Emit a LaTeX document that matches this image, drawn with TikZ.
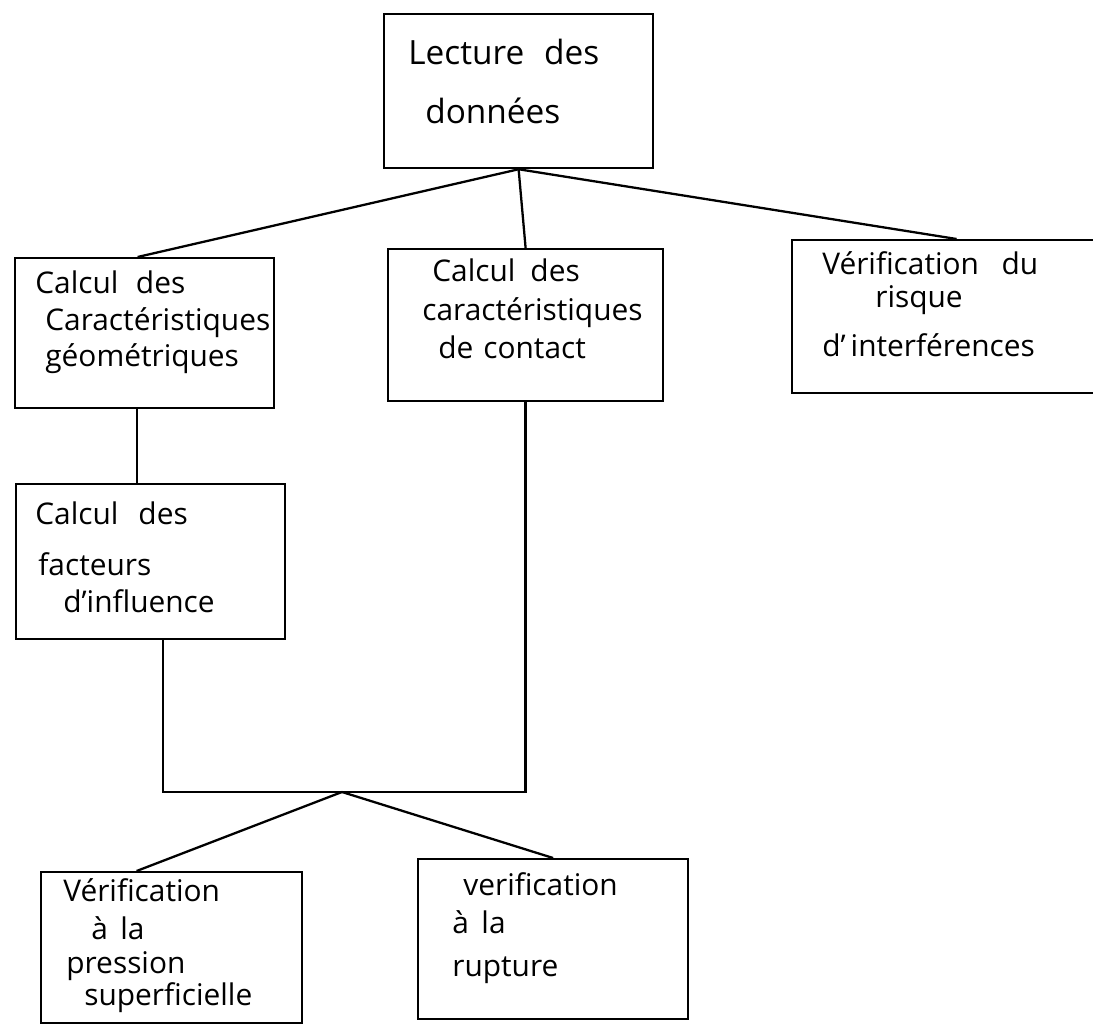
\documentclass[tikz,border=0pt]{standalone}
\usepackage{fontspec}
\setmainfont{Open Sans}
\hyphenpenalty=10000
\exhyphenpenalty=10000

\begin{document}
\begin{tikzpicture}[x=0.02cm,y=-0.02cm,
  boite/.style={draw,line width=1.3pt,anchor=north west,inner sep=0pt},
  texte/.style={anchor=base west,align=left,inner sep=0pt,
    font=\fontsize{17}{21}\selectfont},
  trait/.style={line width=1.3pt}]

  \useasboundingbox (0,0) rectangle (1093,1027);
  \clip (0,0) rectangle (1093,1027);

  % les boites
  \node[boite,minimum width=5.38cm,minimum height=3.08cm] (lecture) at (383,13) {};
  \node[boite,minimum width=5.18cm,minimum height=3.0cm] (geom) at (14,257) {};
  \node[boite,minimum width=5.5cm,minimum height=3.04cm] (contact) at (387,248) {};
  \node[boite,minimum width=6.58cm,minimum height=3.06cm] (interf) at (791,239) {};
  \node[boite,minimum width=5.38cm,minimum height=3.1cm] (influence) at (15,483) {};
  \node[boite,minimum width=5.22cm,minimum height=3.02cm] (pression) at (40,871) {};
  \node[boite,minimum width=5.4cm,minimum height=3.2cm] (rupture) at (417,858) {};

  % les textes (placés par la ligne du bas)
  \node[texte,font=\fontsize{19}{21}\selectfont] (lecture-t) at (408,124)
    {Lecture\hspace{0.4cm}des\\[13pt]\hspace*{0.34cm}données};
  \node[texte] (geom-t) at (35,367)
    {Calcul\hspace{0.35cm}des\\\hspace*{0.2cm}Caractéristiques\\\hspace*{0.2cm}géométriques};
  \node[texte] (contact-t) at (422,359)
    {\hspace*{0.2cm}Calcul\hspace{0.3cm}des\\[1pt]caractéristiques\\[1pt]\hspace*{0.32cm}de\hspace{0.2cm}contact};
  \node[texte] (interf-t) at (822,357)
    {Vérification\hspace{0.45cm}du\\[-2pt]\hspace*{1.06cm}risque\\[7pt]d'\hspace{0.1cm}interférences};
  \node[texte] (influence-t) at (35,612)
    {Calcul\hspace{0.4cm}des\\[8pt]\hspace*{0.06cm}facteurs\\\hspace*{0.56cm}d'influence};
  \node[texte] (pression-t) at (63,1005)
    {Vérification\\[1pt]\hspace*{0.56cm}à\hspace{0.25cm}la\\[-2pt]\hspace*{0.06cm}pression\\[-3pt]\hspace*{0.42cm}superficielle};
  \node[texte] (rupture-t) at (452,976)
    {\hspace*{0.22cm}verification\\[1pt]à\hspace{0.25cm}la\\[3pt]rupture};

  % les liaisons
  \coordinate (noeud) at (342,792);
  \draw[trait] (lecture.south) -- ([xshift=-0.14cm]geom.north);
  \draw[trait] (lecture.south) -- (contact.north);
  \draw[trait] (lecture.south) -- (interf.north);
  \draw[trait] ([xshift=-0.15cm]geom.south) -- ([xshift=-0.15cm]geom.south |- influence.north);
  \draw[trait] ([xshift=0.25cm]influence.south) |- (noeud) -| (contact.south);
  \draw[trait] (noeud) -- ([xshift=-0.7cm]pression.north);
  \draw[trait] (noeud) -- (rupture.north);

\end{tikzpicture}
\end{document}
